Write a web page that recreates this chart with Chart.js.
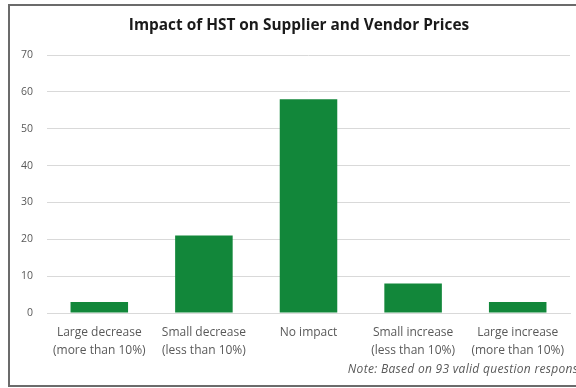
<!DOCTYPE html>
<html>
<head>
<meta charset="utf-8">
<script src="https://cdn.jsdelivr.net/npm/chart.js@4"></script>
<style>
  html, body { margin: 0; padding: 0; background: #fff; }
  #wrap { width: 576px; height: 388px; position: relative; }
</style>
</head>
<body>
<div id="wrap"><canvas id="hstChart"></canvas></div>
<script>
const categories = [
  ['Large decrease', '(more than 10%)'],
  ['Small decrease', '(less than 10%)'],
  'No impact',
  ['Small increase', '(less than 10%)'],
  ['Large increase', '(more than 10%)'],
];
const responses = [3, 21, 58, 8, 3];
const yTicks = [0, 10, 20, 30, 40, 50, 60, 70];
const titleText = 'Impact of HST on Supplier and Vendor Prices';
const noteText = 'Note: Based on 93 valid question responses';

const grey = '#595959';
const fontFamily = '"Open Sans", "DejaVu Sans", sans-serif';

// outer frame, title and note line (title sits a bit right of canvas centre)
const framePlugin = {
  id: 'frame',
  afterDraw(chart) {
    const ctx = chart.ctx;
    ctx.save();
    ctx.strokeStyle = '#6b6b6b';
    ctx.lineWidth = 2;
    ctx.strokeRect(9, 5, 620, 381);

    ctx.fillStyle = '#1a1a1a';
    ctx.font = 'bold 15.4px ' + fontFamily;
    ctx.textAlign = 'center';
    ctx.textBaseline = 'middle';
    ctx.fillText(titleText, 299, 26);

    ctx.fillStyle = grey;
    ctx.font = 'italic 12px ' + fontFamily;
    ctx.letterSpacing = '0.3px';
    ctx.textAlign = 'right';
    ctx.fillText(noteText, 590, 370);
    ctx.restore();
  },
};

new Chart(document.getElementById('hstChart'), {
  type: 'bar',
  data: {
    labels: categories,
    datasets: [{
      data: responses,
      backgroundColor: '#12873a',
      barPercentage: 0.55,
      categoryPercentage: 1,
    }],
  },
  options: {
    responsive: true,
    maintainAspectRatio: false,
    animation: false,
    layout: { padding: { left: 10, right: 6, top: 55, bottom: 17 } },
    plugins: {
      legend: { display: false },
      tooltip: { enabled: false },
      title: { display: false },
    },
    scales: {
      x: {
        grid: { display: false, drawTicks: false },
        border: { display: true, color: '#d9d9d9', width: 1 },
        ticks: {
          color: grey,
          padding: 11,
          maxRotation: 0,
          autoSkip: false,
          font: { family: fontFamily, size: 12, lineHeight: 1.5 },
        },
      },
      y: {
        min: 0,
        max: 70,
        afterBuildTicks(scale) {
          scale.ticks = yTicks.map(v => ({ value: v }));
        },
        afterFit(scale) {
          scale.width = 37;
        },
        grid: { color: '#d9d9d9', drawTicks: false },
        border: { display: false },
        ticks: {
          color: grey,
          padding: 14,
          font: { family: fontFamily, size: 10.5 },
        },
      },
    },
  },
  plugins: [framePlugin],
});
</script>
</body>
</html>
